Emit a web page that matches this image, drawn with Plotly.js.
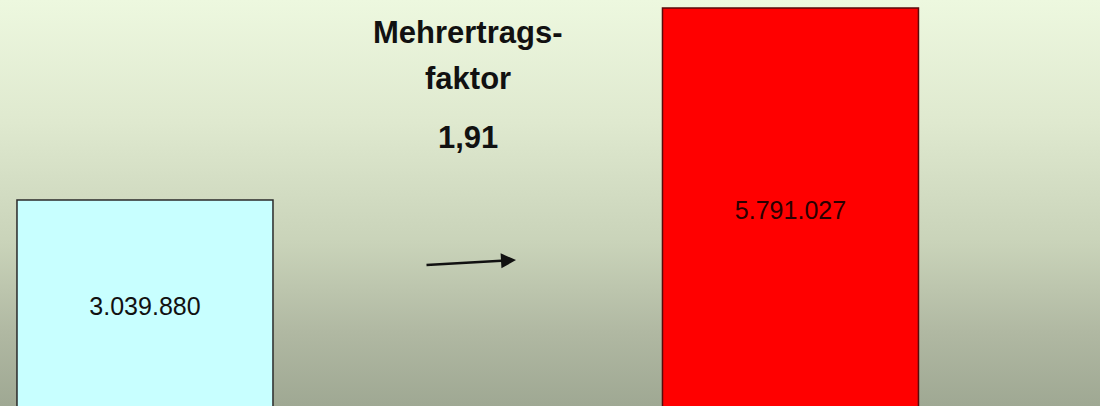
<!DOCTYPE html>
<html>
<head>
<meta charset="utf-8">
<script src="https://cdn.plot.ly/plotly-3.0.1.min.js"></script>
<style>
  html, body { margin:0; padding:0; }
  body { width:1100px; height:406px; overflow:hidden;
         background: linear-gradient(to bottom, #edf8df 0%, #dfe9cf 30%, #c9d3b9 60%, #b0b8a2 82%, #9fa893 100%); }
  #chart { width:1100px; height:406px; }
</style>
</head>
<body>
<div id="chart"></div>
<script>
const categories = ["vorher", "nachher"];
const values = [3039880, 5791027];
const valueLabels = ["3.039.880", "5.791.027"];
const factorTitle = ["Mehrertrags-", "faktor"];
const factorLabel = (values[1] / values[0]).toFixed(2).replace(".", ",");

const xPos = [0, 1];

const trace = {
  type: "bar",
  x: xPos,
  y: values,
  width: 0.3966,
  text: valueLabels,
  textposition: "inside",
  insidetextanchor: "middle",
  textangle: 0,
  textfont: { family: "Liberation Sans, Arial, sans-serif", size: 25, color: ["#111111", "#2a0000"] },
  marker: { color: ["#c8ffff", "#ff0000"], line: { color: ["#2a2a2a", "#5a0a0a"], width: 1.5 } },
  hoverinfo: "skip",
  customdata: categories
};

const layout = {
  width: 1100, height: 406,
  margin: { l: 0, r: 0, t: 0, b: 0, pad: 0 },
  paper_bgcolor: "rgba(0,0,0,0)",
  plot_bgcolor: "rgba(0,0,0,0)",
  showlegend: false,
  xaxis: { range: [-0.2246, 1.4795], visible: false, fixedrange: true },
  yaxis: { range: [86000, 5905600], visible: false, fixedrange: true },
  annotations: [
    { xref: "paper", yref: "paper", x: 468/1100, y: 1 - 33/406, text: "<b>" + factorTitle[0] + "</b>", showarrow: false,
      font: { family: "Liberation Sans, Arial, sans-serif", size: 31, color: "#111" }, xanchor: "center", yanchor: "middle" },
    { xref: "paper", yref: "paper", x: 468/1100, y: 1 - 78/406, text: "<b>" + factorTitle[1] + "</b>", showarrow: false,
      font: { family: "Liberation Sans, Arial, sans-serif", size: 31, color: "#111" }, xanchor: "center", yanchor: "middle" },
    { xref: "paper", yref: "paper", x: 468/1100, y: 1 - 138/406, text: "<b>" + factorLabel + "</b>", showarrow: false,
      font: { family: "Liberation Sans, Arial, sans-serif", size: 31, color: "#111" }, xanchor: "center", yanchor: "middle" },
    { xref: "paper", yref: "paper", x: 516/1100, y: 1 - 260/406, text: "", showarrow: true,
      axref: "pixel", ayref: "pixel", ax: -91, ay: 5,
      arrowhead: 2, arrowsize: 1.2, arrowwidth: 2.5, arrowcolor: "#111" }
  ]
};

Plotly.newPlot("chart", [trace], layout, { displayModeBar: false, staticPlot: true });
</script>
</body>
</html>
